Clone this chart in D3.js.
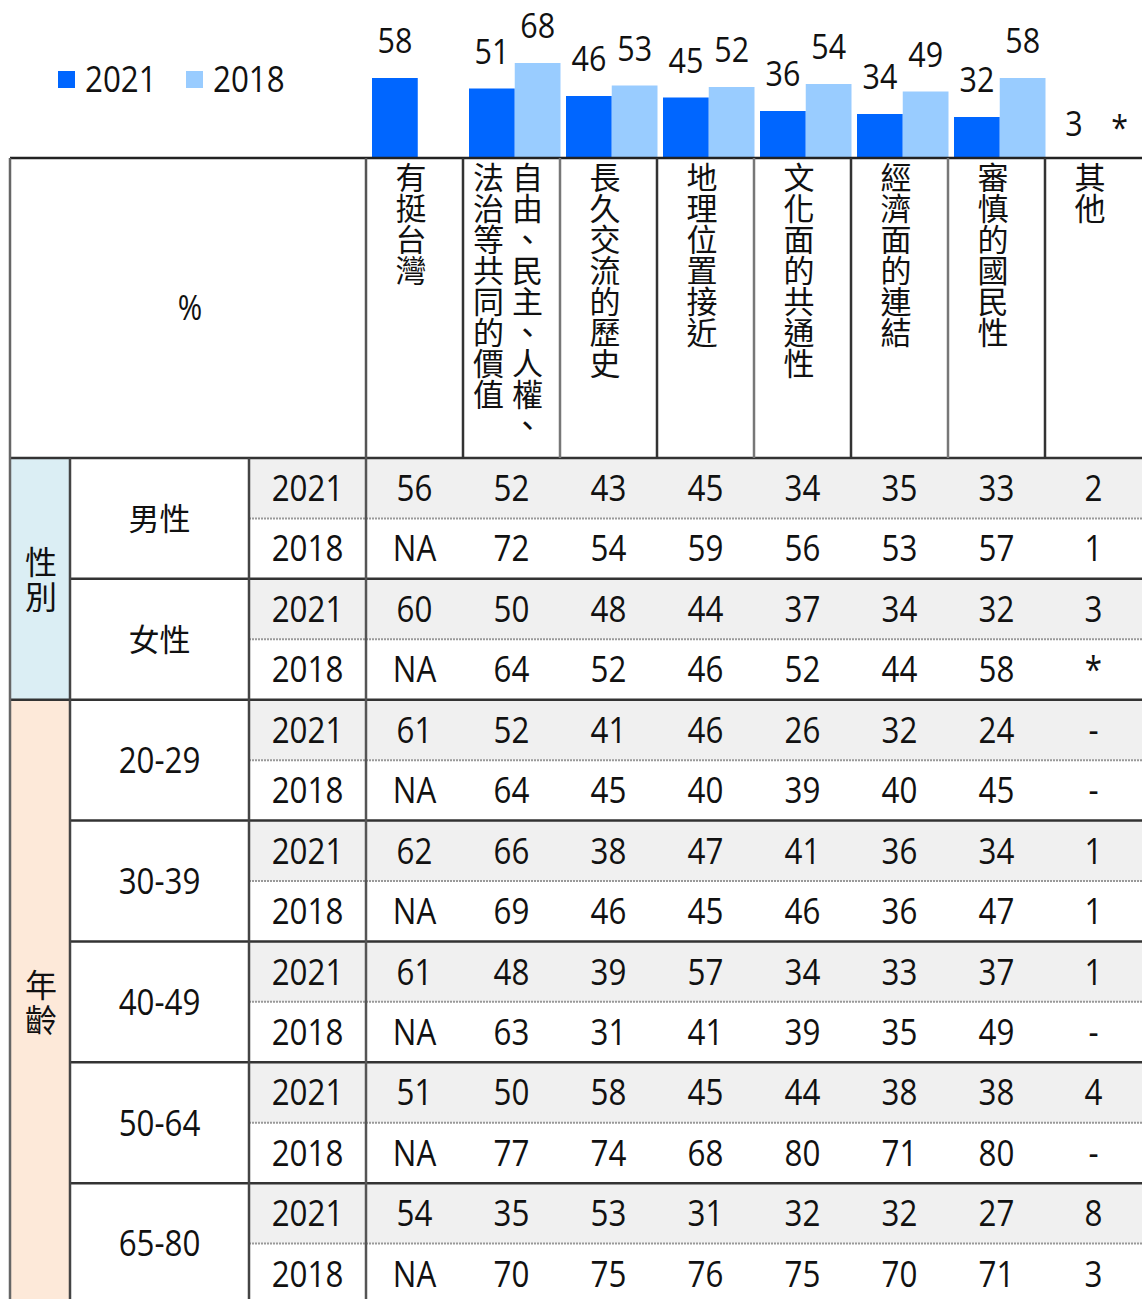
<!DOCTYPE html>
<html><head><meta charset="utf-8">
<script src="https://cdn.jsdelivr.net/npm/d3@7"></script>
<style>body{margin:0;background:#fff}</style></head>
<body><svg id="c" width="1142" height="1299"></svg>
<script>
// ---------- data ----------
const categories = ["有挺台灣","自由、民主、人權、法治等共同的價值","長久交流的歷史","地理位置接近","文化面的共通性","經濟面的連結","審慎的國民性","其他"];
const headerLines = [["有挺台灣"],["自由、民主、人權、","法治等共同的價值"],["長久交流的歷史"],["地理位置接近"],["文化面的共通性"],["經濟面的連結"],["審慎的國民性"],["其他"]];
const years = ["2021","2018"];
const total2021 = [58,51,46,45,36,34,32,3];
const total2018 = [null,68,53,52,54,49,58,0];
const labels2021 = ["58","51","46","45","36","34","32","3"];
const labels2018 = ["","68","53","52","54","49","58","*"];
const groupNames = ["性別","年齡"];
const subgroups = ["男性","女性","20-29","30-39","40-49","50-64","65-80"];
const subgroupGroup = [0,0,1,1,1,1,1];
const rows2021 = [
  ["56","52","43","45","34","35","33","2"],
  ["60","50","48","44","37","34","32","3"],
  ["61","52","41","46","26","32","24","-"],
  ["62","66","38","47","41","36","34","1"],
  ["61","48","39","57","34","33","37","1"],
  ["51","50","58","45","44","38","38","4"],
  ["54","35","53","31","32","32","27","8"]
];
const rows2018 = [
  ["NA","72","54","59","56","53","57","1"],
  ["NA","64","52","46","52","44","58","*"],
  ["NA","64","45","40","39","40","45","-"],
  ["NA","69","46","45","46","36","47","1"],
  ["NA","63","31","41","39","35","49","-"],
  ["NA","77","74","68","80","71","80","-"],
  ["NA","70","75","76","75","70","71","3"]
];
const colors = {"2021":"#0066ff","2018":"#99ccff"};

// ---------- layout ----------
const svg = d3.select("#c");
const W = 1142, H = 1299;
const tableTop = 158, headBottom = 458, rowH = 60.43;
const xL = 10, xSub = 70, xYear = 249, xData = 366;
const NUM = "'Open Sans','Noto Sans CJK TC',sans-serif";
const CJK = "'Noto Sans CJK TC','Noto Sans CJK SC',sans-serif";
const SX = 0.87;

const x = d3.scaleBand().domain(categories).range([xData, W]).padding(0);
const x1 = d3.scaleBand().domain(years).range([6, 97.5]).padding(0);
const y = d3.scaleLinear().domain([0,100]).range([165,15]);

const nRows = subgroups.length*2;
const rowY = d3.scaleBand().domain(d3.range(nRows)).range([headBottom, headBottom+nRows*rowH]);

function num(g, cx, cy, s, size, anchor){
  return g.append("text")
    .attr("transform",`translate(${cx},${cy + size*0.357}) scale(${SX},1)`)
    .attr("text-anchor", anchor||"middle")
    .attr("font-family", NUM).attr("font-size", size).attr("fill","#111")
    .text(s);
}

// ---------- bars ----------
const barData = [];
categories.forEach((c,i)=>{
  barData.push({c, yr:"2021", v: total2021[i], lab: labels2021[i]});
  barData.push({c, yr:"2018", v: total2018[i], lab: labels2018[i]});
});
const gb = svg.append("g");
gb.selectAll("rect").data(barData.filter(d=>d.v!=null && d.v>0)).join("rect")
  .attr("x", d=>x(d.c)+x1(d.yr)).attr("width", x1.bandwidth())
  .attr("y", d=>y(d.v)).attr("height", d=>y(0)-y(d.v))
  .attr("fill", d=>colors[d.yr]);
barData.filter(d=>d.v!=null && d.lab!=="").forEach(d=>{
  const cx = x(d.c)+x1(d.yr)+x1.bandwidth()/2;
  gb.append("text")
    .attr("transform",`translate(${cx},${y(d.v)-25}) scale(${SX},1)`)
    .attr("text-anchor","middle").attr("font-family",NUM).attr("font-size",35).attr("fill","#111")
    .text(d.lab);
});

// legend
const lg = svg.append("g");
[["2021",58],["2018",186]].forEach(([yr,lx])=>{
  lg.append("rect").attr("x",lx).attr("y",71).attr("width",17).attr("height",17).attr("fill",colors[yr]);
  num(lg, lx+27, 79, yr, 36, "start");
});

// ---------- table ----------
const gt = svg.append("g");
gt.append("rect").attr("x",0).attr("y",tableTop).attr("width",W).attr("height",H-tableTop).attr("fill","#fff");

// group backgrounds
const groupBg = ["#dbeef4","#fde9d9"];
groupNames.forEach((gname,gi)=>{
  const idx = subgroups.map((s,i)=>i).filter(i=>subgroupGroup[i]===gi);
  const r0 = idx[0]*2, r1 = idx[idx.length-1]*2+1;
  const top = rowY(r0), bot = rowY(r1)+rowH;
  gt.append("rect").attr("x",xL).attr("y",top).attr("width",xSub-xL).attr("height",bot-top).attr("fill",groupBg[gi]);
  gt.append("text").attr("x",(xL+xSub)/2 + 1).attr("y", (top+bot)/2 + 2)
    .attr("font-family",CJK).attr("font-size",32).attr("fill","#111")
    .attr("text-anchor","middle")
    .style("writing-mode","vertical-rl").style("text-orientation","upright")
    .attr("letter-spacing",3)
    .text(gname);
});

// grey 2021 rows
d3.range(nRows).filter(r=>r%2===0).forEach(r=>{
  gt.append("rect").attr("x",xYear).attr("y",rowY(r)).attr("width",W-xYear).attr("height",rowH).attr("fill","#f0f0f0");
});

// lines
const line = (x1_,y1_,x2_,y2_,col,w,dash)=>gt.append("line")
  .attr("x1",x1_).attr("y1",y1_).attr("x2",x2_).attr("y2",y2_)
  .attr("stroke",col).attr("stroke-width",w).attr("stroke-dasharray",dash||null);

subgroups.forEach((s,i)=>{
  const r = i*2;
  if(i>0){
    const startsGroup = subgroupGroup[i]!==subgroupGroup[i-1];
    line(startsGroup?xL:xSub, rowY(r), W, rowY(r), "#333", 2.5);
  }
  line(xYear, rowY(r+1), W, rowY(r+1), "#999", 2, "2,1");
});
line(xL, tableTop, W, tableTop, "#222", 2.5);
line(xL, headBottom, W, headBottom, "#333", 2.5);
line(xL, tableTop, xL, H, "#666", 2.5);
line(xData, tableTop, xData, H, "#555", 2.5);
line(xSub, headBottom, xSub, H, "#444", 2.5);
line(xYear, headBottom, xYear, H, "#444", 2.5);
categories.slice(1).forEach((c,i)=>{
  line(x(c), tableTop, x(c), headBottom, i%2===0?"#333":"#777", 2.5);
});

// header texts
num(gt, 190, 308, "%", 34);
categories.forEach((c,ci)=>{
  const lines = headerLines[ci];
  const n = lines.length;
  lines.forEach((ln,li)=>{
    const cx = x(c)+x.bandwidth()/2 + (n-1)*19.5 - li*39 - 3.5;
    gt.append("text").attr("x",cx).attr("y",162)
      .attr("font-family",CJK).attr("font-size",31).attr("fill","#111")
      .style("writing-mode","vertical-rl").style("text-orientation","upright")
      .text(ln);
  });
});

// subgroup + year + values
subgroups.forEach((s,i)=>{
  const r = i*2;
  const cy = rowY(r)+rowH;
  if(/[0-9]/.test(s)) num(gt, (xSub+xYear)/2, cy, s, 36);
  else gt.append("text").attr("x",(xSub+xYear)/2).attr("y",cy+12)
    .attr("text-anchor","middle").attr("font-family",CJK).attr("font-size",31).attr("fill","#111").text(s);
  [[rows2021[i],"2021"],[rows2018[i],"2018"]].forEach(([vals,yr],k)=>{
    const rc = rowY(r+k)+rowH/2;
    num(gt, (xYear+xData)/2, rc, yr, 36);
    vals.forEach((v,ci)=>{
      num(gt, x(categories[ci])+x.bandwidth()/2, rc, v, 36);
    });
  });
});
</script></body></html>
